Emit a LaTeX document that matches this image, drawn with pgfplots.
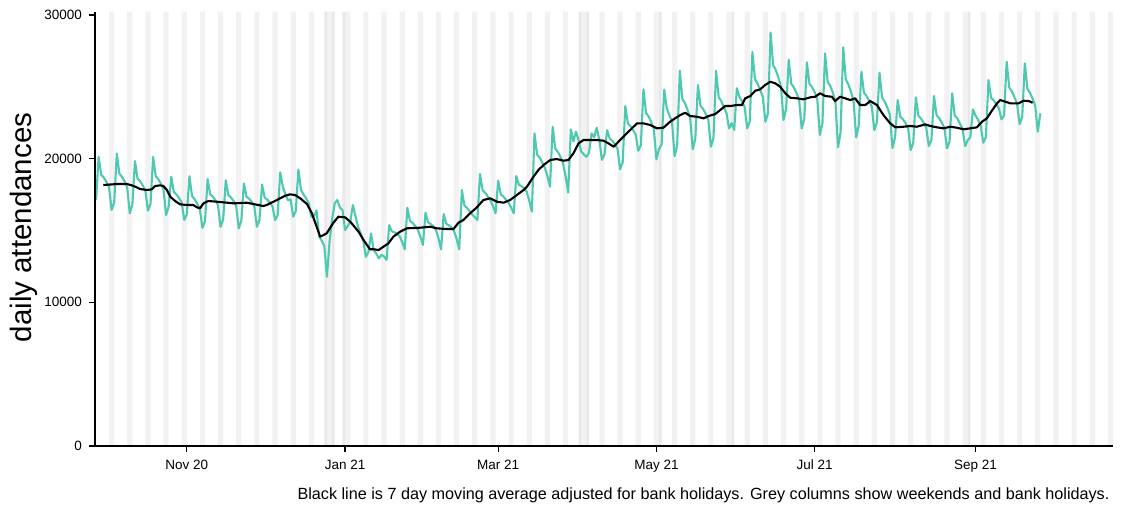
\documentclass[border=0pt]{standalone}
\usepackage{pgfplots}
\pgfplotsset{compat=1.18}
\usepackage{pgfplotstable}
\usepackage{fontspec}
\setmainfont{Liberation Sans}
\definecolor{linegreen}{RGB}{78,201,176}
\definecolor{wkgrey}{RGB}{242,242,242}
\definecolor{bhgrey}{RGB}{232,232,232}

% daily attendances from Sun 27 Sep 2020 (day -35, day 0 = 1 Nov 2020)
\pgfplotstableread[row sep=\\]{
v\\
17120\\
20130\\18880\\18680\\18390\\18020\\16430\\16960\\
20360\\18960\\18740\\18420\\18000\\16200\\16800\\
19830\\18610\\18420\\18140\\17790\\16380\\16850\\
20130\\18780\\18570\\18260\\17850\\16080\\16670\\
18740\\17670\\17510\\17260\\16960\\15730\\16140\\
18780\\17400\\17180\\16860\\16500\\15190\\15630\\
18580\\17520\\17360\\17110\\16780\\15260\\15770\\
18500\\17460\\17300\\17060\\16730\\15150\\15680\\
18270\\17350\\17210\\16990\\16690\\15260\\15740\\
18200\\17290\\17150\\16940\\16690\\15730\\16050\\
19050\\18050\\17500\\17100\\17170\\15960\\16360\\
19250\\17820\\17500\\17240\\16900\\15960\\16000\\
16400\\14570\\14300\\13900\\11780\\14200\\15800\\
16890\\17120\\16600\\16430\\15030\\15300\\15610\\
16770\\16000\\15260\\14800\\14340\\13170\\13500\\
14800\\13640\\13400\\13060\\13300\\13200\\12950\\
15380\\14940\\14870\\14770\\14600\\14200\\13690\\
16590\\15670\\15530\\15320\\15060\\14590\\13990\\
16240\\15560\\15460\\15300\\15050\\14450\\13690\\
16150\\15470\\15360\\15210\\14960\\14400\\13690\\
17820\\16730\\16570\\16320\\16110\\15940\\15730\\
18930\\17810\\17630\\17370\\17100\\16700\\16200\\
18470\\17510\\17370\\17150\\16920\\16600\\16200\\
18790\\18180\\18090\\17940\\17700\\17080\\16310\\
21760\\20290\\20070\\19730\\19360\\18780\\18050\\
22220\\20710\\20480\\20130\\19670\\18770\\17640\\
22040\\21200\\21880\\21300\\20500\\20300\\20130\\
20400\\21760\\21500\\22150\\21300\\19910\\20300\\
21990\\21400\\21250\\21000\\20700\\19260\\19750\\
23660\\22450\\22270\\21990\\21680\\20550\\20930\\
24830\\23190\\22930\\22550\\22070\\19950\\20660\\
21000\\24800\\23500\\23000\\22600\\20180\\20900\\
26120\\24160\\23860\\23400\\22860\\20650\\21390\\
25130\\23680\\23460\\23120\\22690\\20830\\21450\\
26120\\24290\\24010\\23580\\23180\\22110\\22470\\
22000\\24900\\24300\\24000\\23600\\22110\\22600\\
27420\\25520\\25230\\24790\\24310\\22570\\23150\\
28780\\26520\\26170\\25650\\25040\\22690\\23470\\
26880\\25200\\24950\\24560\\24080\\22110\\22770\\
26700\\25210\\24980\\24630\\24130\\21650\\22480\\
27330\\25360\\25060\\24600\\23950\\20790\\21840\\
27750\\25510\\25160\\24650\\24020\\21480\\22330\\
26050\\24590\\24360\\24030\\23620\\21990\\22530\\
25980\\24240\\23970\\23570\\23040\\20740\\21510\\
24080\\22920\\22750\\22480\\22130\\20600\\21110\\
24270\\22990\\22790\\22500\\22160\\20880\\21310\\
24360\\23020\\22820\\22510\\22140\\20720\\21190\\
24550\\23020\\22790\\22440\\22070\\20880\\21280\\
21500\\23430\\23000\\22700\\22300\\21110\\21500\\
25470\\24250\\24070\\23790\\23510\\22740\\23000\\
26750\\24960\\24690\\24280\\23840\\22410\\22890\\
26640\\24860\\24590\\24170\\23700\\21880\\23160\\
}\daily

% 7 day moving average (day, value)
\pgfplotstableread[row sep=\\]{
d v\\
-32.2 18166\\ -27.0 18235\\ -23.1 18235\\ -21.2 18143\\ -19.3 18004\\ -18.0 17887\\
-15.4 17818\\ -13.5 17864\\ -12.2 18096\\ -10.3 18143\\ -9.0 18096\\ -7.7 17818\\
-6.4 17352\\ -4.5 17052\\ -2.6 16822\\ 0 16774\\ 2.5 16774\\ 3.9 16613\\
5.1 16543\\ 6.4 16891\\ 8.3 17052\\ 11.6 17004\\ 18.0 16891\\ 23.1 16935\\
25.7 16843\\ 29.5 16704\\ 30.8 16774\\ 34.7 17122\\ 37.9 17421\\ 39.8 17518\\
41.7 17470\\ 43.7 17240\\ 46.3 16843\\ 48.2 16196\\ 51.4 14567\\ 52.7 14686\\
53.9 14804\\ 56.5 15542\\ 58.4 15960\\ 61.0 15918\\ 63.0 15612\\ 66.2 14916\\
68.1 14338\\ 70.6 13690\\ 71.9 13700\\ 73.9 13642\\ 75.8 13874\\ 77.7 14108\\
79.6 14567\\ 82.2 14916\\ 84.8 15152\\ 89.9 15194\\ 93.8 15263\\ 96.4 15152\\
100.2 15103\\ 102.8 15103\\ 104.7 15542\\ 106.6 15730\\ 109.2 16196\\ 111.8 16613\\
114.3 17122\\ 116.9 17240\\ 119.5 17004\\ 122.1 16935\\ 124.6 17122\\ 127.2 17470\\
129.8 17818\\ 131.1 18050\\ 133.6 18743\\ 135.5 19210\\ 137.5 19558\\ 140.1 19906\\
142.6 19975\\ 145.2 19858\\ 147.1 19906\\ 149.0 20372\\ 151.0 21068\\ 152.9 21298\\
155.5 21298\\ 158.1 21298\\ 160.6 21250\\ 162.5 21068\\ 164.5 20832\\ 166.4 21182\\
168.3 21528\\ 170.9 21994\\ 173.5 22460\\ 176.0 22460\\ 178.6 22342\\ 181.2 22112\\
183.7 22154\\ 186.3 22572\\ 188.2 22808\\ 190.2 23038\\ 192.1 23198\\ 194.0 22968\\
196.6 22919\\ 199.2 22808\\ 201.1 22968\\ 203.7 23107\\ 205.6 23386\\ 207.5 23664\\
209.5 23664\\ 212.0 23734\\ 214.0 23734\\ 215.2 24200\\ 217.2 24360\\ 219.1 24729\\
221.0 24827\\ 222.9 25126\\ 224.9 25355\\ 226.8 25244\\ 228.7 25007\\ 230.7 24548\\
232.6 24242\\ 235.2 24200\\ 237.7 24130\\ 240.3 24270\\ 242.2 24311\\ 244.1 24548\\
246.1 24360\\ 248.6 24311\\ 249.9 24012\\ 251.8 24311\\ 253.8 24200\\ 255.7 24082\\
257.6 24200\\ 259.5 23734\\ 261.5 23734\\ 263.4 24012\\ 266.0 23734\\ 268.5 23038\\
271.1 22460\\ 273.1 22182\\ 276.3 22224\\ 278.8 22272\\ 281.4 22224\\ 284.6 22388\\
286.6 22272\\ 289.1 22182\\ 291.7 22112\\ 294.3 22224\\ 296.8 22154\\ 299.4 22043\\
302.0 22112\\ 304.5 22182\\ 306.5 22572\\ 308.4 22808\\ 310.3 23337\\ 312.3 23852\\
313.5 24082\\ 315.5 23964\\ 317.4 23852\\ 320.6 23852\\ 322.5 24033\\ 324.5 24012\\
326.0 23894\\
}\mavg

% weekends: Saturday day numbers (column spans the weekend)
\pgfplotstableread[row sep=\\]{
d h\\
-36 30230\\ -29 30230\\ -22 30230\\ -15 30230\\ -8 30230\\ -1 30230\\ 6 30230\\
13 30230\\ 20 30230\\ 27 30230\\ 34 30230\\ 41 30230\\ 48 30230\\ 55 30230\\
62 30230\\ 69 30230\\ 76 30230\\ 83 30230\\ 90 30230\\ 97 30230\\ 104 30230\\
111 30230\\ 118 30230\\ 125 30230\\ 132 30230\\ 139 30230\\ 146 30230\\ 153 30230\\
160 30230\\ 167 30230\\ 174 30230\\ 181 30230\\ 188 30230\\ 195 30230\\ 202 30230\\
209 30230\\ 216 30230\\ 223 30230\\ 230 30230\\ 237 30230\\ 244 30230\\ 251 30230\\
258 30230\\ 265 30230\\ 272 30230\\ 279 30230\\ 286 30230\\ 293 30230\\ 300 30230\\
307 30230\\ 314 30230\\ 321 30230\\ 328 30230\\ 335 30230\\ 342 30230\\ 349 30230\\
356 30230\\
}\weekends

% bank holidays
\pgfplotstableread[row sep=\\]{
d h\\
53.5 30230\\ 56.5 30230\\ 60.5 30230\\ 151.5 30230\\ 154.5 30230\\
182.5 30230\\ 210.5 30230\\ 301.5 30230\\
}\holidays

\begin{document}
\begin{tikzpicture}
\useasboundingbox (-95pt,-58pt) rectangle (1028pt,446pt);
\begin{axis}[
  scale only axis,
  width=1018pt, height=434.3pt,
  xmin=-35.4, xmax=357,
  ymin=0, ymax=30230,
  axis on top,
  axis x line*=bottom, axis y line*=left,
  axis line style={line width=1.4pt, -},
  tick style={line width=1.2pt, black},
  tick align=outside,
  major tick length=6pt,
  xtick={0,61,120,181,242,304},
  xticklabels={Nov 20,Jan 21,Mar 21,May 21,Jul 21,Sep 21},
  ytick={0,10000,20000,30000},
  yticklabels={0,10000,20000,30000},
  ticklabel style={font=\fontsize{13.5}{16}\selectfont},
  xticklabel style={yshift=-4.5pt},
  yticklabel style={xshift=-3.5pt},
  ylabel={daily attendances},
  every axis y label/.style={at={(axis description cs:-0.0697,0.503)},rotate=90,anchor=center,font=\fontsize{29.5}{34}\selectfont},
  xlabel={Black line is 7 day moving average adjusted for bank holidays. Grey columns show weekends and bank holidays.},
  every axis x label/.style={at={(axis description cs:1,0)},anchor=base east,yshift=-53pt,font=\fontsize{16.2}{19}\selectfont},
  clip=true,
]
\addplot[ybar, bar shift=0pt, bar width=2, fill=wkgrey, draw=none] table[x=d,y=h] {\weekends};
\addplot[ybar, bar shift=0pt, bar width=1, fill=bhgrey, draw=none] table[x=d,y=h] {\holidays};
\addplot[linegreen, line width=2.1pt, line join=round] table[x expr=\coordindex-35, y=v] {\daily};
\addplot[black, line width=2.1pt, line join=round] table[x=d, y=v] {\mavg};
\end{axis}
\end{tikzpicture}
\end{document}
